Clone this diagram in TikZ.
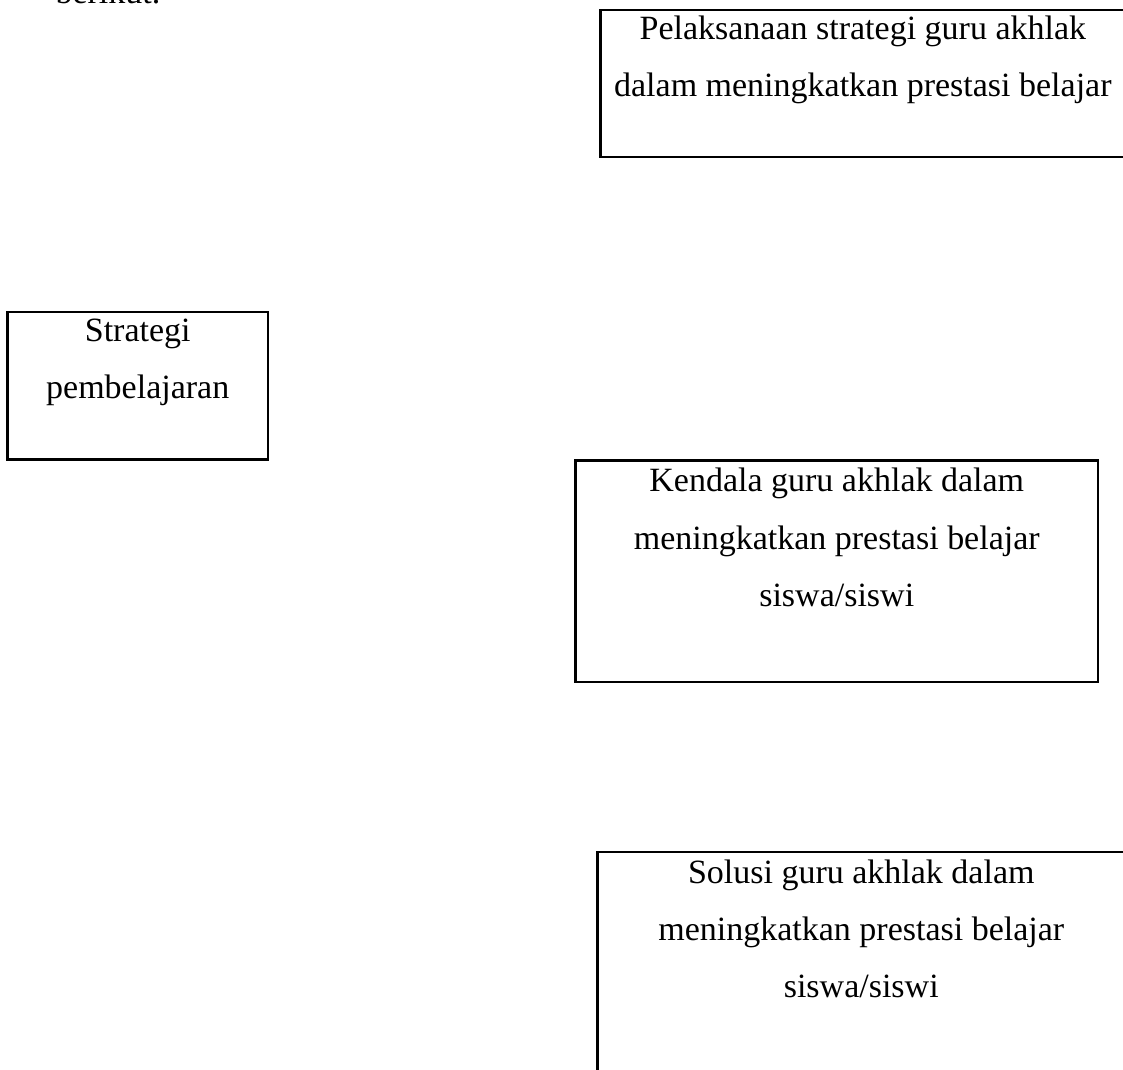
\documentclass[tikz,border=0pt]{standalone}
\usepackage{fontspec}
\setmainfont{Liberation Serif}
\usetikzlibrary{calc, fit}

\begin{document}
\begin{tikzpicture}[x=0.353pt, y=-0.353pt]
            \tikzset{
                kotak/.style={draw, line width=0.9pt, inner sep=0pt},
                tulisan/.style={align=center, anchor=base, inner sep=0pt, font=\fontsize{12}{20.2}\selectfont}
            };
            \clip (0, 0) rectangle (1123, 1069);
            \node[tulisan, anchor=base west] (berikut) at (55, 3.5) {berikut.};
            \node[kotak, fit={(600.7, 10) (1125, 157)}] (pelaksanaan) {};
            \node[kotak, fit={(7.5, 312) (268, 459.5)}] (strategi) {};
            \node[kotak, fit={(575.5, 460.7) (1098, 682)}] (kendala) {};
            \node[kotak, fit={(597.5, 852) (1125, 1100)}] (solusi) {};
            % base of a multi-line node is its last line
            \node[tulisan] (pelaksanaan-teks) at ($(pelaksanaan.north)+(0, 88)$)
                {Pelaksanaan strategi guru akhlak\\dalam meningkatkan prestasi belajar};
            \node[tulisan] (strategi-teks) at ($(strategi.north)+(0, 88)$)
                {Strategi\\pembelajaran};
            \node[tulisan] (kendala-teks) at ($(kendala.north)+(0, 147)$)
                {Kendala guru akhlak dalam\\meningkatkan prestasi belajar\\siswa/siswi};
            \node[tulisan] (solusi-teks) at ($(solusi.north)+(0, 147)$)
                {Solusi guru akhlak dalam\\meningkatkan prestasi belajar\\siswa/siswi};
        \end{tikzpicture}
\end{document}
